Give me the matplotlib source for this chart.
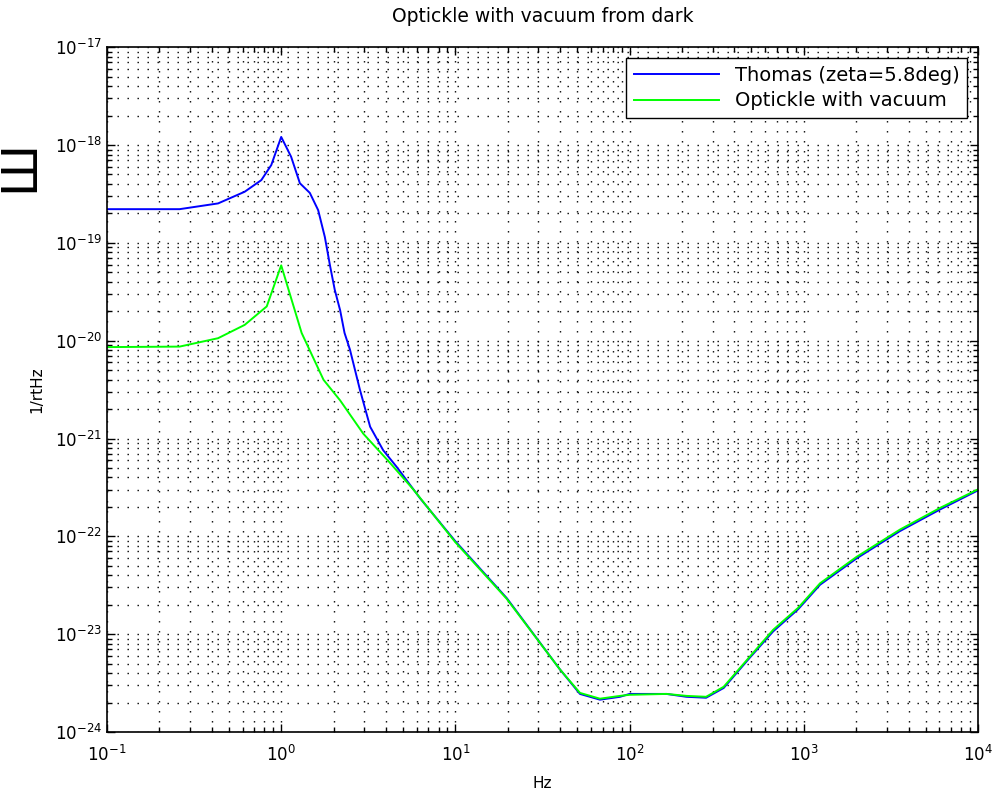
import numpy as np
import matplotlib
matplotlib.use("Agg")
from matplotlib import pyplot as plt
from matplotlib.ticker import LogLocator, NullFormatter

# values
thomas_hz = [0.1, 0.261, 0.434, 0.617, 0.769, 0.877, 1.0, 1.14, 1.28, 1.46, 1.63,
             1.78, 1.91, 2.03, 2.18, 2.31, 2.48, 2.83, 3.24, 3.85, 4.60, 6.27,
             10.0, 19.7, 39.8, 51.9, 67.6, 88.1, 100, 163, 212, 275, 347, 490,
             668, 929, 1240, 2010, 3560, 6050, 10000]
thomas_asd = [2.21e-19, 2.21e-19, 2.53e-19, 3.33e-19, 4.38e-19, 6.24e-19, 1.21e-18,
              7.59e-19, 4.07e-19, 3.24e-19, 2.16e-19, 1.15e-19, 5.75e-20, 3.31e-20,
              2.04e-20, 1.20e-20, 8.13e-21, 3.16e-21, 1.32e-21, 7.59e-22, 5.13e-22,
              2.45e-22, 8.9e-23, 2.34e-23, 4.37e-24, 2.45e-24, 2.14e-24, 2.29e-24,
              2.45e-24, 2.45e-24, 2.29e-24, 2.24e-24, 2.82e-24, 5.75e-24, 1.07e-23,
              1.80e-23, 3.20e-23, 5.95e-23, 1.13e-22, 1.88e-22, 2.95e-22]

vacuum_hz = [0.1, 0.261, 0.434, 0.617, 0.826, 1.0, 1.31, 1.75, 2.18, 2.96, 4.22,
             5.73, 10.0, 19.7, 39.8, 51.9, 67.6, 88.1, 100, 163, 212, 275, 347,
             490, 668, 929, 1240, 2010, 3560, 6050, 10000]
vacuum_asd = [8.6e-21, 8.7e-21, 1.06e-20, 1.45e-20, 2.24e-20, 5.89e-20, 1.20e-20,
              3.98e-21, 2.45e-21, 1.12e-21, 5.62e-22, 3.02e-22, 8.7e-23, 2.30e-23,
              4.37e-24, 2.51e-24, 2.19e-24, 2.34e-24, 2.40e-24, 2.45e-24, 2.34e-24,
              2.29e-24, 2.90e-24, 5.89e-24, 1.11e-23, 1.86e-23, 3.31e-23, 6.17e-23,
              1.17e-22, 1.95e-22, 3.02e-22]

labels = ["Thomas (zeta=5.8deg)", "Optickle with vacuum"]


def main():
    fig = plt.figure(figsize=(10.02, 8.0), dpi=100)
    ax = fig.add_axes([0.1068, 0.085, 0.8692, 0.856])

    ax.loglog(thomas_hz, thomas_asd, color=(0, 0, 1), lw=1.4, label=labels[0])
    ax.loglog(vacuum_hz, vacuum_asd, color=(0, 1, 0), lw=1.4, label=labels[1])

    ax.set_xlim(1e-1, 1e4)
    ax.set_ylim(1e-24, 1e-17)

    # matlab style dotted grid, major and minor
    for axis in (ax.xaxis, ax.yaxis):
        axis.set_major_locator(LogLocator(base=10, numticks=20))
        axis.set_minor_locator(LogLocator(base=10, subs=np.arange(2, 10), numticks=200))
        axis.set_minor_formatter(NullFormatter())
    ax.grid(True, which="both", color="k", lw=1.0, linestyle=(0, (1, 6.2)))

    ax.tick_params(which="both", direction="in", top=True, right=True, labelsize=12)
    ax.tick_params(axis="x", which="major", pad=9)
    ax.tick_params(which="major", length=6, width=1)
    ax.tick_params(which="minor", length=3.5, width=1)
    for s in ax.spines.values():
        s.set_linewidth(1.2)

    ax.set_title("Optickle with vacuum from dark", fontsize=13.5, pad=18)
    ax.set_xlabel("Hz", fontsize=11, labelpad=8)
    ax.set_ylabel("1/rtHz", fontsize=11, labelpad=8)

    leg = ax.legend(loc="upper right", fontsize=14, fancybox=False, framealpha=1,
                    edgecolor="k", handlelength=4.4, borderaxespad=0.55,
                    labelspacing=0.35)
    leg.get_frame().set_linewidth(1.0)

    # stray glyph at the left edge of the original
    fig.text(0.019, 0.793, "\u0428", rotation=90, fontsize=35, ha="center", va="center")

    fig.savefig("out.png", dpi=100)


if __name__ == "__main__":
    main()
